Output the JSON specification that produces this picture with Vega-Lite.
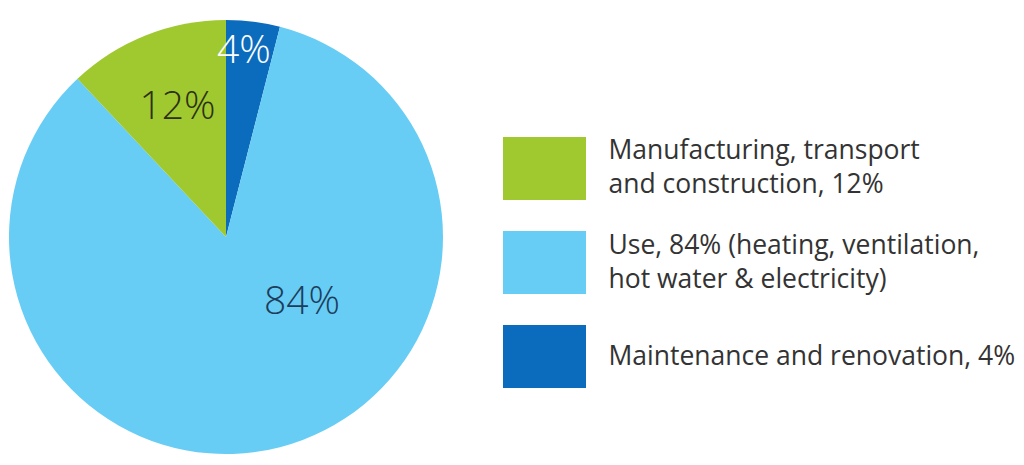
{
  "$schema": "https://vega.github.io/schema/vega-lite/v6.json",
  "padding": 0,
  "background": "white",
  "config": {"view": {"stroke": null}, "font": "Open Sans"},
  "datasets": {
    "shares": [
      {"category": "Maintenance and renovation, 4%", "label": "4%", "value": 4, "order": 1},
      {"category": "Use, 84% (heating, ventilation,\nhot water & electricity)", "label": "84%", "value": 84, "order": 2},
      {"category": "Manufacturing, transport\nand construction, 12%", "label": "12%", "value": 12, "order": 3}
    ]
  },
  "spacing": 51,
  "hconcat": [
    {
      "width": 452,
      "height": 474,
      "data": {"name": "shares"},
      "encoding": {
        "theta": {"field": "value", "type": "quantitative", "stack": true},
        "order": {"field": "order", "type": "quantitative"}
      },
      "layer": [
        {
          "mark": {"type": "arc", "outerRadius": 217},
          "encoding": {
            "color": {
              "field": "category",
              "type": "nominal",
              "legend": null,
              "scale": {
                "domain": ["Manufacturing, transport\nand construction, 12%", "Use, 84% (heating, ventilation,\nhot water & electricity)", "Maintenance and renovation, 4%"],
                "range": ["#9fc92f", "#67cdf5", "#0b6cbd"]
              }
            }
          }
        },
        {
          "mark": {"type": "text", "radius": 187, "thetaOffset": -0.03, "fontSize": 39, "fontWeight": 300, "color": "#ffffff", "baseline": "middle", "align": "center"},
          "encoding": {
            "text": {"field": "label"},
            "opacity": {"condition": {"test": "datum.label == '4%'", "value": 1}, "value": 0}
          }
        },
        {
          "mark": {"type": "text", "radius": 139, "thetaOffset": 0.02, "fontSize": 39, "fontWeight": 300, "color": "#2d3014", "baseline": "middle", "align": "center"},
          "encoding": {
            "text": {"field": "label"},
            "opacity": {"condition": {"test": "datum.label == '12%'", "value": 1}, "value": 0}
          }
        },
        {
          "mark": {"type": "text", "radius": 100, "thetaOffset": -0.613, "fontSize": 39, "fontWeight": 300, "color": "#1d3d5c", "baseline": "middle", "align": "center"},
          "encoding": {
            "text": {"field": "label"},
            "opacity": {"condition": {"test": "datum.label == '84%'", "value": 1}, "value": 0}
          }
        }
      ]
    },
    {
      "spacing": 22,
      "hconcat": [
        {
          "width": 83,
          "height": 465,
          "data": {"name": "shares"},
          "mark": {"type": "rect"},
          "encoding": {
            "y": {
              "field": "category",
              "type": "nominal",
              "axis": null,
              "scale": {
                "type": "band",
                "domain": ["Manufacturing, transport\nand construction, 12%", "Use, 84% (heating, ventilation,\nhot water & electricity)", "Maintenance and renovation, 4%"],
                "range": [137, 388],
                "paddingInner": 0.33,
                "paddingOuter": 0
              }
            },
            "color": {
              "field": "category",
              "type": "nominal",
              "legend": null,
              "scale": {
                "domain": ["Manufacturing, transport\nand construction, 12%", "Use, 84% (heating, ventilation,\nhot water & electricity)", "Maintenance and renovation, 4%"],
                "range": ["#9fc92f", "#67cdf5", "#0b6cbd"]
              }
            }
          }
        },
        {
          "width": 1,
          "height": 465,
          "data": {"name": "shares"},
          "encoding": {
            "y": {
              "field": "category",
              "type": "nominal",
              "axis": null,
              "bandPosition": 0.5,
              "scale": {
                "type": "band",
                "domain": ["Manufacturing, transport\nand construction, 12%", "Use, 84% (heating, ventilation,\nhot water & electricity)", "Maintenance and renovation, 4%"],
                "range": [137, 388],
                "paddingInner": 0.33,
                "paddingOuter": 0
              }
            },
            "text": {"field": "category"}
          },
          "layer": [
            {
              "transform": [{"filter": "indexof(datum.category, '\\n') >= 0"}],
              "mark": {"type": "text", "align": "left", "baseline": "middle", "dy": -17, "fontSize": 26.5, "lineHeight": 34, "lineBreak": "\n", "color": "#333333"}
            },
            {
              "transform": [{"filter": "indexof(datum.category, '\\n') < 0"}],
              "mark": {"type": "text", "align": "left", "baseline": "middle", "fontSize": 26.5, "lineHeight": 34, "lineBreak": "\n", "color": "#333333"}
            }
          ]
        }
      ]
    }
  ]
}
